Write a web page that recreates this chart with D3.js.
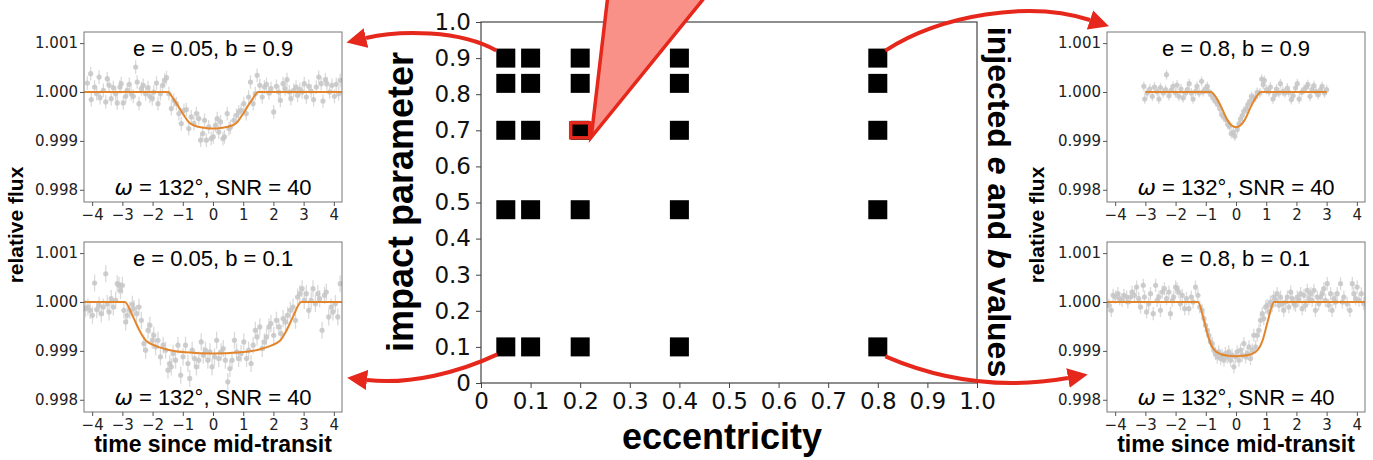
<!DOCTYPE html>
<html>
<head>
<meta charset="utf-8">
<script src="https://cdn.jsdelivr.net/npm/d3@7"></script>
<style>
  body { margin: 0; background: #fff; }
  svg { display: block; }
</style>
</head>
<body>
<svg id="fig" width="1373" height="460"></svg>
<script>
(function() {

// injected grid of (e, b)
var eccValues = [0.05, 0.1, 0.2, 0.4, 0.8];
var impactValues = [0.1, 0.48, 0.7, 0.83, 0.9];
var gridTicks = [0, 0.1, 0.2, 0.3, 0.4, 0.5, 0.6, 0.7, 0.8, 0.9, 1.0];
var highlightE = 0.2, highlightB = 0.7;

// light curve panels
var timeTicks = [-4, -3, -2, -1, 0, 1, 2, 3, 4];
var fluxTicks = [0.998, 0.999, 1.000, 1.001];
var panelNames = ['TL', 'BL', 'TR', 'BR'];
var panelTitles = ['e = 0.05, b = 0.9', 'e = 0.05, b = 0.1', 'e = 0.8, b = 0.9', 'e = 0.8, b = 0.1'];
var panelSubtitle = ['132°, SNR = 40'];

// flux points: [time, deviation in ppm]
var fluxTL = [[-4.16,184],[-4.05,374],[-4.03,-156],[-3.92,102],[-3.85,-34],[-3.77,306],[-3.74,-116],[-3.63,34],[-3.55,-204],[-3.50,272],
  [-3.44,136],[-3.37,-136],[-3.30,88],[-3.22,-34],[-3.17,-224],[-3.08,102],[-3.04,170],[-2.97,-224],[-2.89,-88],[-2.84,34],
  [-2.77,156],[-2.71,-34],[-2.64,-88],[-2.56,510],[-2.51,204],[-2.45,-238],[-2.37,68],[-2.31,136],[-2.23,-34],[-2.15,88],
  [-2.09,-88],[-2.01,-136],[-1.96,0],[-1.87,184],[-1.82,-238],[-1.74,-34],[-1.67,136],[-1.60,238],[-1.54,292],[-1.46,-34],
  [-1.38,-340],[-1.30,-170],[-1.21,-238],[-1.13,-442],[-1.05,-646],[-0.96,-374],[-0.88,-360],[-0.80,-748],[-0.72,-510],[-0.63,-646],
  [-0.55,-442],[-0.47,-544],[-0.41,-986],[-0.34,-850],[-0.28,-578],[-0.22,-986],[-0.14,-714],[-0.06,-952],[0.01,-918],[0.08,-680],
  [0.14,-544],[0.19,-816],[0.25,-612],[0.33,-952],[0.38,-918],[0.47,-442],[0.53,-748],[0.58,-714],[0.69,-578],[0.78,-476],
  [0.85,-408],[0.93,-374],[1.02,-238],[1.10,-442],[1.18,-102],[1.24,204],[1.33,-238],[1.40,-34],[1.46,340],[1.55,136],
  [1.63,-102],[1.70,102],[1.77,156],[1.85,-20],[1.92,68],[2.01,-408],[2.10,116],[2.18,0],[2.23,-170],[2.32,170],
  [2.39,68],[2.45,252],[2.53,0],[2.58,-136],[2.67,34],[2.75,102],[2.80,-68],[2.87,48],[2.95,0],[3.02,170],
  [3.09,-102],[3.17,116],[3.25,20],[3.33,-156],[3.42,102],[3.50,306],[3.58,170],[3.64,-184],[3.72,252],[3.77,170],
  [3.86,0],[3.94,136],[4.02,-88],[4.08,156],[4.16,-34],[4.21,238]];

var fluxBL = [[-4.22,-136],[-4.14,-102],[-4.07,-170],[-3.99,-272],[-3.92,388],[-3.85,-156],[-3.77,-68],[-3.70,-238],[-3.63,-102],[-3.55,578],
  [-3.50,-34],[-3.44,-204],[-3.37,68],[-3.30,-102],[-3.22,34],[-3.17,374],[-3.11,340],[-3.06,238],[-3.00,340],[-2.95,-170],
  [-2.89,-408],[-2.84,-272],[-2.75,-170],[-2.67,-48],[-2.62,-136],[-2.53,-238],[-2.45,-102],[-2.37,-374],[-2.29,-850],[-2.23,-986],
  [-2.15,-578],[-2.09,-476],[-2.01,-782],[-1.96,-680],[-1.90,-918],[-1.82,-782],[-1.74,-1122],[-1.65,-884],[-1.57,-986],[-1.49,-1394],
  [-1.43,-1258],[-1.38,-1326],[-1.32,-1054],[-1.24,-1190],[-1.16,-884],[-1.07,-1496],[-0.99,-1122],[-0.91,-884],[-0.83,-1258],[-0.77,-1564],
  [-0.69,-986],[-0.61,-1156],[-0.55,-1326],[-0.47,-1190],[-0.39,-816],[-0.32,-1088],[-0.25,-986],[-0.17,-1190],[-0.10,-1020],[-0.03,-1326],
  [0.05,-1122],[0.12,-782],[0.19,-1156],[0.27,-1020],[0.34,-952],[0.41,-1190],[0.49,-1632],[0.56,-1360],[0.63,-1190],[0.71,-782],
  [0.78,-1020],[0.85,-1156],[0.93,-1054],[1.02,-816],[1.11,-1156],[1.18,-986],[1.26,-1258],[1.33,-884],[1.40,-578],[1.46,-714],
  [1.55,-510],[1.63,-952],[1.70,-816],[1.77,-714],[1.85,-510],[1.92,-442],[2.01,-680],[2.10,-374],[2.18,-510],[2.25,-646],
  [2.32,-340],[2.40,-408],[2.47,-272],[2.56,-170],[2.65,-102],[2.73,-374],[2.80,102],[2.87,170],[2.95,272],[3.02,34],
  [3.09,170],[3.17,-170],[3.25,34],[3.31,272],[3.39,-34],[3.47,170],[3.53,68],[3.61,-578],[3.69,136],[3.75,204],
  [3.83,-306],[3.91,-102],[3.97,-204],[4.05,-34],[4.13,-306],[4.21,374]];

var fluxTR = [[-3.05,116],[-3.02,-143],[-2.94,-20],[-2.85,61],[-2.77,-88],[-2.70,102],[-2.61,7],[-2.55,-143],[-2.50,88],[-2.41,-20],
  [-2.33,48],[-2.30,354],[-2.22,-75],[-2.15,34],[-2.08,116],[-2.00,-20],[-1.95,143],[-1.89,-88],[-1.82,61],[-1.75,-122],
  [-1.67,-20],[-1.61,48],[-1.55,170],[-1.48,-20],[-1.42,-143],[-1.34,14],[-1.29,116],[-1.22,-20],[-1.14,218],[-1.09,7],
  [-1.01,61],[-0.95,116],[-0.90,7],[-0.82,-54],[-0.76,-122],[-0.68,-190],[-0.60,-258],[-0.53,-347],[-0.48,-462],[-0.40,-510],
  [-0.34,-564],[-0.27,-666],[-0.21,-700],[-0.16,-850],[-0.09,-823],[-0.04,-904],[0.04,-768],[0.10,-646],[0.15,-551],[0.21,-483],
  [0.26,-394],[0.34,-347],[0.39,-258],[0.46,-190],[0.51,-88],[0.57,-122],[0.65,-102],[0.70,-7],[0.79,-20],[0.85,265],
  [0.90,150],[0.94,238],[1.01,48],[1.09,7],[1.14,102],[1.22,-143],[1.29,-54],[1.34,61],[1.42,-20],[1.47,170],
  [1.55,14],[1.62,-20],[1.70,82],[1.75,-7],[1.83,-156],[1.89,-75],[1.97,82],[2.03,170],[2.09,-143],[2.17,-7],
  [2.25,48],[2.33,102],[2.38,150],[2.45,-88],[2.51,48],[2.58,129],[2.65,7],[2.72,-54],[2.80,48],[2.85,116],
  [2.93,-20],[3.00,48]];

var fluxBR = [[-4.21,-68],[-4.13,-170],[-4.07,136],[-3.99,102],[-3.91,170],[-3.85,68],[-3.77,34],[-3.71,136],[-3.62,102],[-3.58,0],
  [-3.49,102],[-3.44,204],[-3.36,136],[-3.29,306],[-3.22,68],[-3.16,-102],[-3.07,340],[-3.03,102],[-2.96,-204],[-2.89,-34],
  [-2.83,170],[-2.74,-238],[-2.66,340],[-2.61,34],[-2.55,102],[-2.50,-170],[-2.44,204],[-2.37,272],[-2.30,68],[-2.22,204],
  [-2.17,-238],[-2.11,34],[-2.06,102],[-2.00,306],[-1.95,272],[-1.89,204],[-1.84,-34],[-1.78,136],[-1.70,-136],[-1.64,68],
  [-1.56,-136],[-1.48,102],[-1.42,0],[-1.34,306],[-1.26,136],[-1.20,-102],[-1.12,-170],[-1.06,-340],[-1.01,-476],[-0.95,-578],
  [-0.90,-680],[-0.84,-816],[-0.79,-850],[-0.73,-986],[-0.68,-1054],[-0.62,-1122],[-0.57,-1020],[-0.51,-1156],[-0.46,-1088],[-0.40,-1190],
  [-0.35,-1054],[-0.29,-1122],[-0.24,-1020],[-0.18,-1190],[-0.13,-1088],[-0.07,-1326],[-0.02,-1122],[0.04,-1020],[0.10,-1190],[0.15,-986],
  [0.21,-1088],[0.26,-850],[0.32,-1122],[0.37,-1054],[0.43,-918],[0.48,-1156],[0.54,-986],[0.59,-680],[0.65,-918],[0.70,-680],
  [0.76,-578],[0.81,-374],[0.87,-238],[0.92,-340],[0.98,-102],[1.03,-68],[1.09,-204],[1.14,0],[1.20,-68],[1.25,102],
  [1.31,34],[1.36,170],[1.42,-68],[1.47,102],[1.53,-34],[1.58,-170],[1.64,0],[1.70,102],[1.75,-102],[1.81,204],
  [1.86,68],[1.92,-34],[1.97,-68],[2.03,102],[2.08,34],[2.14,170],[2.19,-136],[2.25,136],[2.30,-68],[2.36,238],
  [2.41,68],[2.47,170],[2.52,34],[2.58,238],[2.63,-170],[2.69,102],[2.74,-34],[2.80,102],[2.85,170],[2.91,272],
  [2.96,34],[3.02,374],[3.07,-68],[3.13,170],[3.18,-170],[3.24,68],[3.30,0],[3.35,170],[3.46,374],[3.52,0],
  [3.57,102],[3.68,-34],[3.77,-170],[3.85,374],[3.90,170],[3.96,68],[4.01,306],[4.07,34],[4.15,170],[4.23,-34]];

// per-panel error bar half-lengths (ppm)
var fluxErr = [140, 175, 100, 135];

// model transit curves: [time, deviation in ppm]
var modelTL = [[-4.27,0],[-1.5,0],[-1.3,-150],[-1.13,-310],[-0.96,-480],[-0.78,-630],[-0.6,-690],[-0.3,-730],[0,-748],
  [0.3,-730],[0.6,-690],[0.78,-630],[0.96,-480],[1.13,-310],[1.3,-150],[1.5,0],[4.27,0]];
var modelBL = [[-4.27,0],[-2.92,0],[-2.65,-300],[-2.42,-600],[-2.25,-770],[-1.96,-884],[-1.5,-975],[-0.9,-1030],[0,-1055],
  [0.9,-1030],[1.5,-975],[1.96,-884],[2.25,-770],[2.42,-600],[2.65,-300],[2.92,0],[4.27,0]];
var modelTR = [[-3,0],[-0.83,0],[-0.65,-120],[-0.5,-290],[-0.3,-560],[-0.14,-685],[0,-720],
  [0.14,-685],[0.3,-560],[0.5,-290],[0.65,-120],[0.83,0],[3,0]];
var modelBR = [[-4.27,0],[-1.26,0],[-1.06,-374],[-0.9,-748],[-0.73,-972],[-0.5,-1068],[-0.25,-1100],[0,-1108],
  [0.25,-1100],[0.5,-1068],[0.73,-972],[0.9,-748],[1.06,-374],[1.26,0],[4.27,0]];

var fluxData = [fluxTL, fluxBL, fluxTR, fluxBR];
var modelData = [modelTL, modelBL, modelTR, modelBR];

var RED = '#e5271c';
var svg = d3.select('#fig');

svg.append('defs').append('marker')
    .attr('id', 'head')
    .attr('viewBox', '0 0 10 10')
    .attr('refX', 0).attr('refY', 5)
    .attr('markerUnits', 'userSpaceOnUse')
    .attr('markerWidth', 20).attr('markerHeight', 22)
    .attr('orient', 'auto')
  .append('path')
    .attr('d', 'M0,0 L10,5 L0,10 z')
    .attr('fill', RED);

// ---------- central grid plot ----------
var x = d3.scaleLinear().domain([0, 1]).range([481, 977]);
var y = d3.scaleLinear().domain([0, 1]).range([383, 22]);
var fmtGrid = function(d) { return d === 0 ? '0' : d.toFixed(1); };

var gx = svg.append('g')
    .attr('transform', 'translate(0,' + y(0) + ')')
    .call(d3.axisBottom(x).tickValues(gridTicks).tickFormat(fmtGrid).tickSize(5).tickPadding(5));
var gy = svg.append('g')
    .attr('transform', 'translate(' + x(0) + ',0)')
    .call(d3.axisLeft(y).tickValues(gridTicks).tickFormat(fmtGrid).tickSize(5).tickPadding(5));
[gx, gy].forEach(function(g) {
    g.select('.domain').remove();
    g.selectAll('line').attr('stroke', '#444');
    g.selectAll('text').attr('font-family', 'DejaVu Sans').attr('font-size', 23).attr('fill', '#111');
});

svg.append('rect')
    .attr('x', x(0)).attr('y', y(1))
    .attr('width', x(1) - x(0)).attr('height', y(0) - y(1))
    .attr('fill', 'none').attr('stroke', '#444').attr('stroke-width', 1.2);

var cells = [];
impactValues.forEach(function(b) {
    eccValues.forEach(function(e) { cells.push({e: e, b: b}); });
});
var sq = 19;
svg.selectAll('.cell')
    .data(cells)
  .enter().append('rect')
    .attr('class', 'cell')
    .attr('x', function(d) { return x(d.e) - sq / 2; })
    .attr('y', function(d) { return y(d.b) - sq / 2; })
    .attr('width', sq).attr('height', sq)
    .attr('fill', '#000');

// callout for the highlighted cell
var hx = x(highlightE), hy = y(highlightB);
svg.append('polygon')
    .attr('points', [[hx + 11, hy + 7], [x(0.256), y(1.075)], [x(0.455), y(1.075)]].join(' '))
    .attr('fill', '#fa9189').attr('stroke', RED).attr('stroke-width', 3.5)
    .attr('stroke-linejoin', 'miter');
svg.append('rect')
    .attr('x', hx - 9.5).attr('y', hy - 7.5)
    .attr('width', 19).attr('height', 15)
    .attr('fill', 'none').attr('stroke', RED).attr('stroke-width', 3.5);

svg.append('text')
    .attr('transform', 'translate(413,202) rotate(-90)')
    .attr('text-anchor', 'middle')
    .attr('font-family', 'Liberation Sans').attr('font-weight', 'bold').attr('font-size', 36)
    .text('impact parameter');
svg.append('text')
    .attr('x', 722).attr('y', 449)
    .attr('text-anchor', 'middle')
    .attr('font-family', 'Liberation Sans').attr('font-weight', 'bold').attr('font-size', 36)
    .text('eccentricity');

var side = svg.append('text')
    .attr('transform', 'translate(988,202) rotate(90)')
    .attr('text-anchor', 'middle')
    .attr('font-family', 'Liberation Sans').attr('font-weight', 'bold').attr('font-size', 32);
side.append('tspan').text('injected ');
side.append('tspan').attr('font-style', 'italic').text('e');
side.append('tspan').text(' and ');
side.append('tspan').attr('font-style', 'italic').text('b');
side.append('tspan').text(' values');

// ---------- light curve panels ----------
var panelW = 258, panelH = 170;
var panelPos = [[84, 32], [84, 242], [1107, 32], [1107, 242]];
var tx = d3.scaleLinear().domain([-4.27, 4.27]).range([0, panelW]);
var fy = d3.scaleLinear().domain([0.99775, 1.001227]).range([panelH, 0]);
var flux = function(ppm) { return 1 + ppm / 1e6; };

var modelLine = d3.line()
    .x(function(d) { return tx(d[0]); })
    .y(function(d) { return fy(flux(d[1])); })
    .curve(d3.curveMonotoneX);

panelNames.forEach(function(name, i) {
    var g = svg.append('g')
        .attr('transform', 'translate(' + panelPos[i][0] + ',' + panelPos[i][1] + ')');

    g.append('clipPath').attr('id', 'clip' + name)
      .append('rect').attr('width', panelW).attr('height', panelH);

    var inner = g.append('g').attr('clip-path', 'url(#clip' + name + ')');
    var err = fluxErr[i];

    inner.selectAll('.err')
        .data(fluxData[i])
      .enter().append('line')
        .attr('x1', function(d) { return tx(d[0]); })
        .attr('x2', function(d) { return tx(d[0]); })
        .attr('y1', function(d) { return fy(flux(d[1] - err)); })
        .attr('y2', function(d) { return fy(flux(d[1] + err)); })
        .attr('stroke', '#dadada').attr('stroke-width', 1.3);

    inner.selectAll('.pt')
        .data(fluxData[i])
      .enter().append('circle')
        .attr('cx', function(d) { return tx(d[0]); })
        .attr('cy', function(d) { return fy(flux(d[1])); })
        .attr('r', 2.6)
        .attr('fill', '#c6c6c6').attr('fill-opacity', 0.85);

    inner.append('path')
        .datum(modelData[i])
        .attr('d', modelLine)
        .attr('fill', 'none').attr('stroke', '#e3852c').attr('stroke-width', 2);

    g.append('rect')
        .attr('width', panelW).attr('height', panelH)
        .attr('fill', 'none').attr('stroke', '#777').attr('stroke-width', 1);

    var ax = g.append('g')
        .attr('transform', 'translate(0,' + panelH + ')')
        .call(d3.axisBottom(tx).tickValues(timeTicks).tickFormat(d3.format('d')).tickSize(4).tickPadding(3));
    var ay = g.append('g')
        .call(d3.axisLeft(fy).tickValues(fluxTicks).tickFormat(d3.format('.3f')).tickSize(4).tickPadding(2));
    [ax, ay].forEach(function(a) {
        a.select('.domain').remove();
        a.selectAll('line').attr('stroke', '#555');
        a.selectAll('text').attr('font-family', 'DejaVu Sans').attr('font-size', 15).attr('fill', '#222');
    });

    g.append('text')
        .attr('x', panelW / 2).attr('y', 24)
        .attr('text-anchor', 'middle')
        .attr('font-family', 'Liberation Sans').attr('font-size', 22)
        .text(panelTitles[i]);

    var sub = g.append('text')
        .attr('x', panelW / 2).attr('y', 163)
        .attr('text-anchor', 'middle')
        .attr('font-family', 'Liberation Sans').attr('font-size', 22);
    sub.append('tspan').attr('font-family', 'DejaVu Sans').attr('font-style', 'italic').text('ω');
    sub.append('tspan').text(' = ' + panelSubtitle[0]);
});

// axis labels for the panels
[[23, 225], [1044, 225]].forEach(function(p) {
    svg.append('text')
        .attr('transform', 'translate(' + p[0] + ',' + p[1] + ') rotate(-90)')
        .attr('text-anchor', 'middle')
        .attr('font-family', 'Liberation Sans').attr('font-weight', 'bold').attr('font-size', 21)
        .text('relative flux');
});
[84 + panelW / 2, 1107 + panelW / 2].forEach(function(cx) {
    svg.append('text')
        .attr('x', cx).attr('y', 452)
        .attr('text-anchor', 'middle')
        .attr('font-family', 'Liberation Sans').attr('font-weight', 'bold').attr('font-size', 23)
        .text('time since mid-transit');
});

// ---------- arrows from corner cells to panels ----------
var h = sq / 2;
var arrows = [
    [[x(0.05) - h, y(0.9) - h + 2], [460, 30], [400, 30], [366, 38]],
    [[x(0.05) - h + 1, y(0.1) + h - 2], [460, 372], [410, 385], [367, 380]],
    [[x(0.8) + h - 2, y(0.9) - h + 2], [940, 15], [1030, 0], [1090, 20]],
    [[x(0.8) + h - 2, y(0.1) + h], [940, 380], [1000, 390], [1068, 378]]
];
svg.selectAll('.arrow')
    .data(arrows)
  .enter().append('path')
    .attr('class', 'arrow')
    .attr('d', function(d) {
        return 'M' + d[0] + ' C' + d[1] + ' ' + d[2] + ' ' + d[3];
    })
    .attr('fill', 'none').attr('stroke', RED).attr('stroke-width', 4)
    .attr('marker-end', 'url(#head)');

})();
</script>
</body>
</html>
